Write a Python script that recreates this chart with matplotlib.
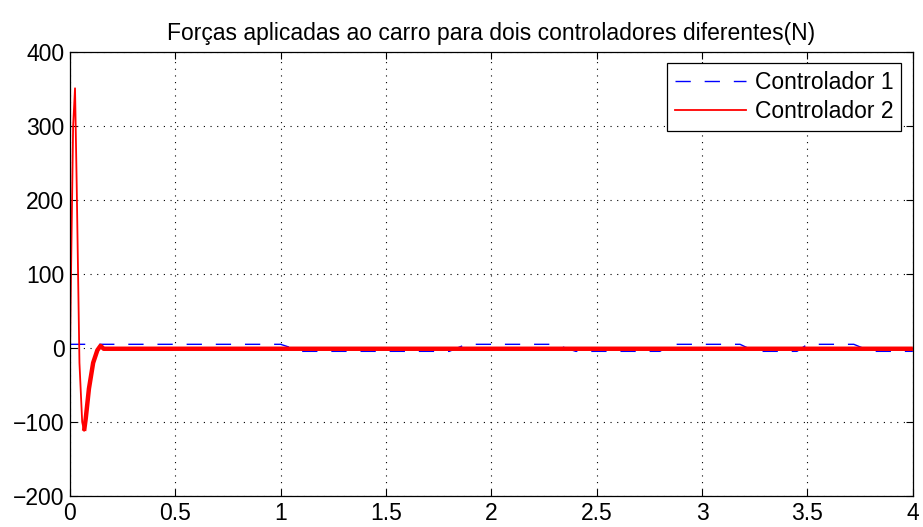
import matplotlib
matplotlib.use('Agg')
import matplotlib.pyplot as plt
import numpy as np

plt.rcParams['font.family'] = ['Liberation Sans', 'DejaVu Sans']

# controlador 1 (tracejado azul)
t1 = [0, 1.0, 1.1, 1.8, 1.88, 2.3, 2.4, 2.8, 2.85, 3.18, 3.25, 3.45, 3.5, 3.72, 3.8, 4.0]
f1 = [5, 5, -4.5, -4.5, 5, 5, -4.5, -4.5, 5, 5, -4.5, -4.5, 5, 5, -4.5, -4.5]

# controlador 2 (vermelho)
t2 = [0, 0.006, 0.015, 0.024, 0.032, 0.045, 0.058, 0.067, 0.075, 0.09, 0.11, 0.13, 0.145, 0.16, 0.2, 4.0]
f2 = [-10, 120, 300, 351, 220, -20, -100, -112, -95, -55, -20, -3, 3, -1, -1, -1]

xticks = [0, 0.5, 1, 1.5, 2, 2.5, 3, 3.5, 4]
yticks = [-200, -100, 0, 100, 200, 300, 400]

fig = plt.figure(figsize=(9.23, 5.27), dpi=100)
ax = fig.add_axes([0.0758, 0.0588, 0.9132, 0.8425])

ax.plot(t1, f1, color='blue', lw=1, dashes=(11, 10), label='Controlador 1')
ax.plot(t2, f2, color='red', lw=1.3, label='Controlador 2')
t2 = np.array(t2)
f2 = np.array(f2)
m = t2 >= 0.066
ax.plot(t2[m], f2[m], color='red', lw=3.2, solid_capstyle='butt')

ax.set_xlim(0, 4)
ax.set_ylim(-200, 400)
ax.set_xticks(xticks)
ax.set_xticklabels([('%g' % v) for v in xticks])
ax.set_yticks(yticks)
ax.set_yticklabels([('%g' % v).replace('-', '\u2212') for v in yticks])
ax.tick_params(direction='in', labelsize=16.5, length=5, top=True, right=True, pad=4)
ax.grid(True, color='black', linestyle=(0, (1, 5)), lw=0.8)
for s in ax.spines.values():
    s.set_linewidth(0.9)

ax.set_title('Forças aplicadas ao carro para dois controladores diferentes(N)', fontsize=16.5, pad=9)
leg = ax.legend(loc='upper right', fontsize=16.5, fancybox=False, framealpha=1,
                edgecolor='black', handlelength=3.1, borderpad=0.35, labelspacing=0.25,
                handletextpad=0.4, borderaxespad=0.5)
leg.get_frame().set_linewidth(0.9)

fig.savefig('out.png', dpi=100)
